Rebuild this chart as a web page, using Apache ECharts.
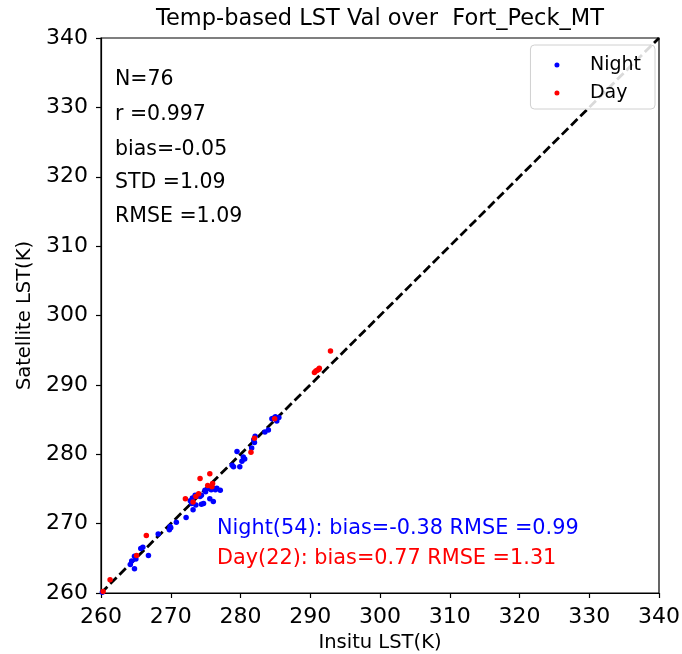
<!DOCTYPE html>
<html>
<head>
<meta charset="utf-8">
<script src="https://cdn.jsdelivr.net/npm/echarts@6/dist/echarts.min.js"></script>
<style>
  html, body { margin: 0; padding: 0; background: #fff; }
  #chart { width: 682px; height: 654px; }
</style>
</head>
<body>
<div id="chart"></div>
<script>
// night points [insitu, satellite]
var nightData = [
  [260.2, 260.1], [264.8, 263.5], [264.4, 264.6], [264.8, 265.3], [265.7, 266.4],
  [266.8, 265.4], [268.2, 268.5], [269.8, 269.1], [270.0, 269.4], [270.8, 270.2],
  [272.2, 270.9], [273.0, 272.9], [273.5, 274.1], [273.6, 272.7], [274.4, 274.1],
  [274.9, 274.8], [275.4, 275.1], [276.1, 275.1], [276.6, 275.1], [277.1, 274.8],
  [274.7, 272.9], [275.6, 273.6], [276.1, 273.2], [273.2, 272.0], [273.1, 273.7],
  [274.4, 272.8], [279.0, 278.2], [279.5, 280.4], [280.2, 279.0], [280.6, 279.3],
  [279.9, 278.2], [281.9, 282.1], [282.1, 282.6], [281.6, 280.9], [284.0, 283.5],
  [284.5, 285.1], [285.0, 285.4], [285.2, 284.8], [284.7, 285.2], [285.5, 285.3],
  [280.4, 279.6], [265.0, 264.9], [269.9, 269.6], [275.0, 274.6], [276.4, 274.9],
  [283.5, 283.2], [274.2, 273.9], [272.8, 273.3], [278.8, 278.4], [275.8, 274.9],
  [264.2, 264.1], [266.0, 266.6], [282.0, 281.7], [285.1, 285.0]
];
// day points [insitu, satellite]
var dayData = [
  [260.3, 260.2], [261.3, 261.9], [266.5, 268.3], [272.1, 273.6], [273.2, 273.1],
  [274.2, 276.5], [275.6, 277.2], [275.9, 275.3], [276.0, 275.8], [281.5, 280.3],
  [290.6, 291.8], [291.0, 292.1], [291.3, 292.4], [292.9, 294.9], [290.8, 292.0],
  [291.2, 292.2], [274.0, 274.3], [275.3, 275.5], [273.6, 273.9], [265.1, 265.4],
  [282.0, 282.3], [284.9, 285.1]
];
var oneToOne = [[260, 260], [340, 340]];
var axisMin = 260;
var axisMax = 340;
var axisStep = 10;

var statLines = ['N=76', 'r =0.997', 'bias=-0.05', 'STD =1.09', 'RMSE =1.09'];
var nightNote = 'Night(54): bias=-0.38 RMSE =0.99';
var dayNote = 'Day(22): bias=0.77 RMSE =1.31';

var font = 'DejaVu Sans';
var chart = echarts.init(document.getElementById('chart'));

var graphics = [];
var statY = [79, 114, 149, 182, 216];
statLines.forEach(function (s, i) {
  graphics.push({
    type: 'text', left: 115, top: statY[i] - 10,
    style: { text: s, fontSize: 20.5, fontFamily: font, fill: '#000' }
  });
});
graphics.push({
  type: 'text', left: 217, top: 518,
  style: { text: nightNote, fontSize: 20.8, fontFamily: font, fill: '#0000ff' }
});
graphics.push({
  type: 'text', left: 217, top: 548,
  style: { text: dayNote, fontSize: 20.8, fontFamily: font, fill: '#ff0000' }
});

function makeAxis(name, gap) {
  return {
    type: 'value',
    min: axisMin,
    max: axisMax,
    interval: axisStep,
    name: name,
    nameLocation: 'middle',
    nameGap: gap,
    nameTextStyle: { fontSize: 19.5, fontFamily: font, color: '#000' },
    axisLine: { show: true, lineStyle: { color: '#000', width: 1.2 } },
    axisTick: { show: true, length: 5, lineStyle: { color: '#000', width: 1.2 } },
    axisLabel: { fontSize: 22, fontFamily: font, color: '#000', margin: 13 },
    splitLine: { show: false }
  };
}

var option = {
  animation: false,
  backgroundColor: '#fff',
  title: {
    text: 'Temp-based LST Val over  Fort_Peck_MT',
    left: 380,
    textAlign: 'center',
    top: 8,
    padding: 0,
    textStyle: { fontSize: 22.5, fontWeight: 'normal', fontFamily: font, color: '#000' }
  },
  legend: {
    orient: 'vertical',
    right: 27,
    top: 45,
    padding: [10, 14, 6, 24],
    itemGap: 8,
    itemWidth: 34,
    itemHeight: 5,
    backgroundColor: 'rgba(255,255,255,0.85)',
    borderColor: '#d0d0d0',
    borderWidth: 1,
    borderRadius: 4,
    textStyle: { fontSize: 19, fontFamily: font, color: '#000', lineHeight: 20, padding: [0, 0, 0, 11] },
    data: [
      { name: 'Night', icon: 'circle' },
      { name: 'Day', icon: 'circle' }
    ]
  },
  grid: {
    left: 101, right: 23, top: 38, bottom: 61,
    containLabel: false,
    outerBoundsMode: 'none',
    show: true, borderColor: '#000', borderWidth: 1.2
  },
  xAxis: makeAxis('Insitu LST(K)', 37),
  yAxis: makeAxis('Satellite LST(K)', 66),
  graphic: graphics,
  series: [
    {
      type: 'line',
      data: oneToOne,
      symbol: 'none',
      z: 1,
      silent: true,
      lineStyle: { color: '#000', width: 2.8, type: [9, 4] }
    },
    {
      name: 'Night',
      type: 'scatter',
      data: nightData,
      symbolSize: 5.5,
      z: 2,
      itemStyle: { color: '#0000ff', opacity: 1 }
    },
    {
      name: 'Day',
      type: 'scatter',
      data: dayData,
      symbolSize: 5.5,
      z: 3,
      itemStyle: { color: '#ff0000', opacity: 1 }
    }
  ]
};

chart.setOption(option);
</script>
</body>
</html>
